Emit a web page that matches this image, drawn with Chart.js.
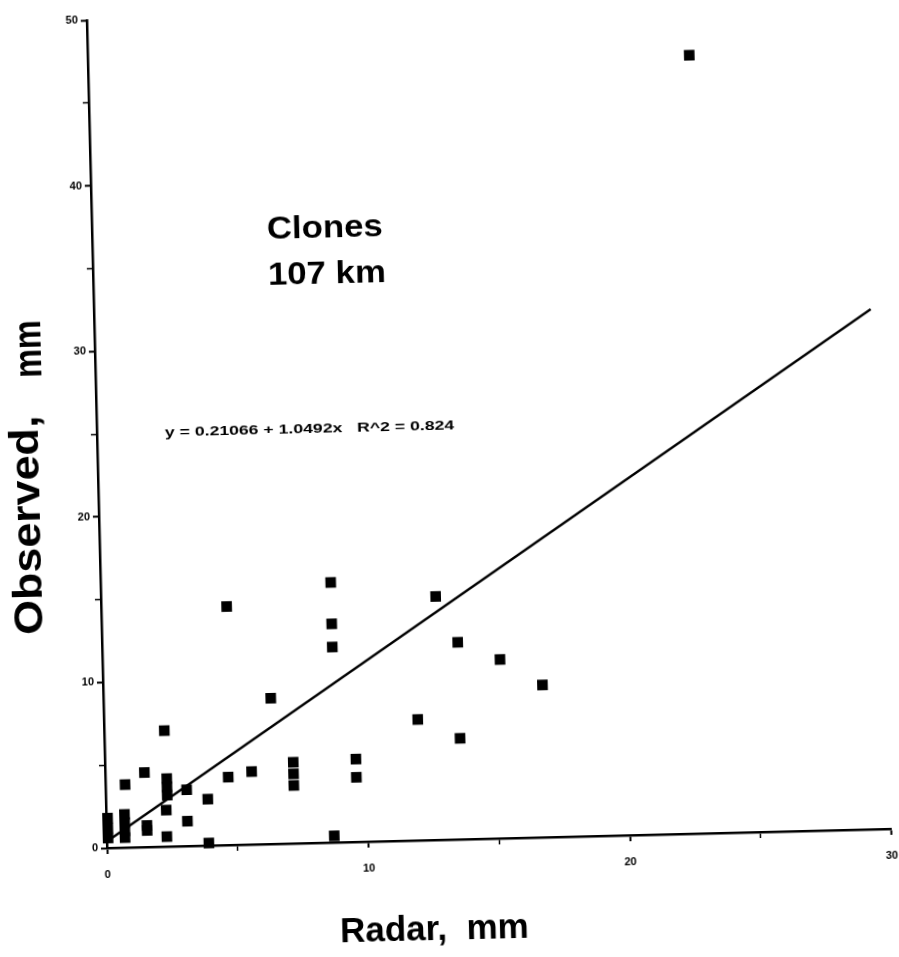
<!DOCTYPE html>
<html>
<head>
<meta charset="utf-8">
<title>Clones 107 km - Observed vs Radar</title>
<script src="https://cdn.jsdelivr.net/npm/chart.js@4.4.1/dist/chart.umd.min.js"></script>
<style>
    html, body { margin: 0; padding: 0; background: #fff; overflow: hidden; }
    #scatter {
        display: block;
        /* the scanned original is tilted a little */
        transform: rotate(-1.4deg);
        transform-origin: 107px 848px;
    }
</style>
</head>
<body>
<canvas id="scatter" width="899" height="957"></canvas>
<script>
// Radar vs observed rainfall, mm
const radarMm = [
    23.0, 8.8, 8.8, 8.8, 4.8, 12.8, 13.6, 15.2, 16.8, 12.0,
    13.6, 6.4, 9.6, 9.6, 8.7, 3.9, 4.7, 5.6, 7.2, 7.2,
    7.2, 2.3, 1.5, 0.75, 2.35, 2.35, 2.35, 3.1, 2.3, 3.1,
    1.55, 1.55, 2.3, 3.9, 0.7, 0.7, 0.7, 0.7, 0.05, 0.05, 0.05
];
const observedMm = [
    47.0, 15.7, 13.2, 11.8, 14.4, 14.7, 11.9, 10.8, 9.2, 7.3,
    6.1, 8.8, 5.0, 3.9, 0.4, 2.8, 4.1, 4.4, 4.9, 4.2,
    3.5, 7.0, 4.5, 3.8, 4.1, 3.6, 3.1, 3.4, 2.2, 1.5,
    1.3, 1.0, 0.6, 0.15, 2.0, 1.5, 1.0, 0.6, 1.8, 1.2, 0.6
];

// regression line end points as drawn
const fitRadar = [0.1, 29.7];
const fitObserved = [0.5, 31.4];

const xTickLabels = [0, 10, 20, 30];
const yTickLabels = [0, 10, 20, 30, 40, 50];

const stationName = "Clones";
const stationRange = "107 km";
const fitText = "y = 0.21066 + 1.0492x   R^2 = 0.824";

const points = radarMm.map((x, i) => ({ x: x, y: observedMm[i] }));
const fitLine = fitRadar.map((x, i) => ({ x: x, y: fitObserved[i] }));

const FONT = "'Liberation Sans', Arial, Helvetica, sans-serif";

// text with a horizontal stretch, the scan uses a wide face
function wideText(c, text, x, y, size, stretch, angle) {
    c.save();
    c.translate(x, y);
    if (angle) c.rotate(angle);
    c.scale(stretch, 1);
    c.font = "bold " + size + "px " + FONT;
    c.fillText(text, 0, 0);
    c.restore();
}

// axis titles and notes drawn straight on the canvas
const notesPlugin = {
    id: "notes",
    afterDraw(chart) {
        const c = chart.ctx;
        c.save();
        c.fillStyle = "#000";
        c.textBaseline = "alphabetic";
        c.textAlign = "left";

        wideText(c, stationName, 282, 243, 31, 1.12);
        wideText(c, stationRange, 282, 289, 31, 1.12);
        wideText(c, fitText, 175, 438, 12, 1.47);

        wideText(c, "Radar,  mm", 338, 948, 35, 1.0);

        wideText(c, "Observed,", 48, 633, 40, 1.12, -Math.PI / 2);
        wideText(c, "mm", 53, 376, 38, 0.85, -Math.PI / 2);
        c.restore();
    }
};

const axisStyle = (min, max, labels) => ({
    type: "linear",
    min: min,
    max: max,
    border: { display: true, color: "#000", width: 2.5 },
    grid: {
        drawOnChartArea: false,
        drawTicks: true,
        tickLength: 6,
        tickColor: "#000",
        tickWidth: ctx => (labels.includes(ctx.tick.value) ? 2 : 1.5)
    },
    ticks: {
        stepSize: 5,
        color: "#000",
        font: { family: FONT, size: 11, weight: "bold" },
        callback: v => (labels.includes(v) ? String(v) : "")
    }
});

const xAxis = axisStyle(0, 30, xTickLabels);
xAxis.ticks.padding = 14;
xAxis.ticks.maxRotation = 0;
xAxis.afterFit = scale => {
    scale.height = 109;
    scale.paddingLeft = 0;
    scale.paddingRight = 7;
};

const yAxis = axisStyle(0, 50, yTickLabels);
yAxis.ticks.padding = 3;
yAxis.afterFit = scale => { scale.width = 107; };

new Chart(document.getElementById("scatter").getContext("2d"), {
    type: "scatter",
    data: {
        datasets: [
            {
                label: "Observed",
                data: points,
                pointStyle: "rect",
                pointRadius: 7.5,
                pointBorderWidth: 0,
                backgroundColor: "#000",
                borderColor: "#000",
                clip: false
            },
            {
                type: "line",
                label: "Fit",
                data: fitLine,
                borderColor: "#000",
                borderWidth: 2.5,
                pointRadius: 0,
                fill: false,
                tension: 0
            }
        ]
    },
    options: {
        responsive: false,
        animation: false,
        layout: { padding: { top: 20, right: 7, left: 0, bottom: 0 } },
        plugins: {
            legend: { display: false },
            tooltip: { enabled: false }
        },
        scales: { x: xAxis, y: yAxis }
    },
    plugins: [notesPlugin]
});
</script>
</body>
</html>
